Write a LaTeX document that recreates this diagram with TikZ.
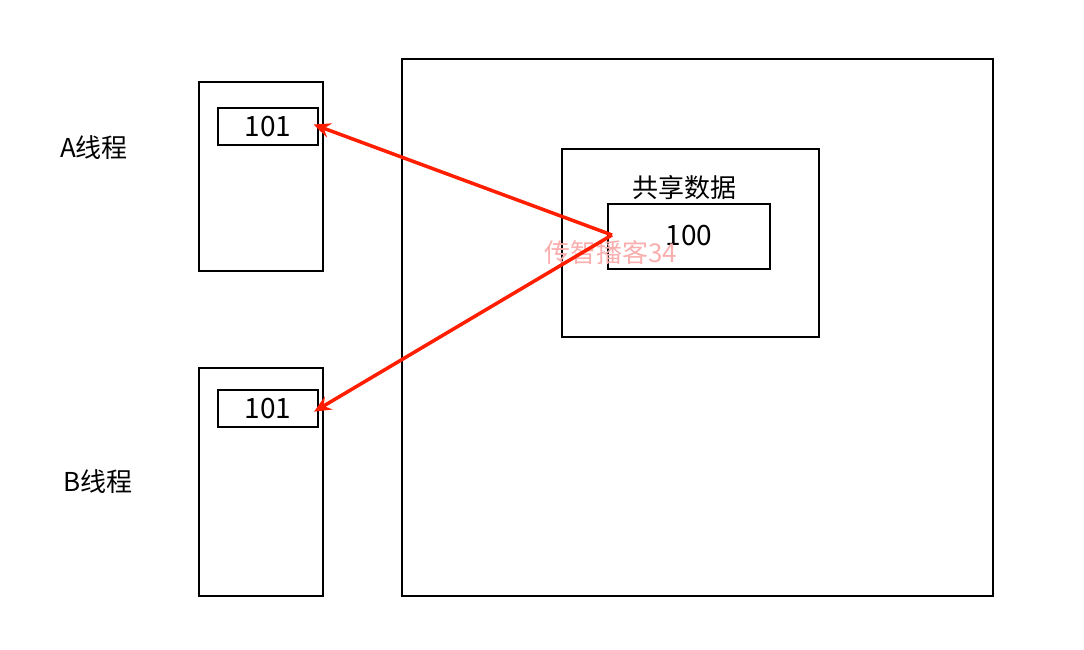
\documentclass[tikz,border=0pt]{standalone}
\usepackage{fontspec}
\setmainfont{Noto Sans CJK SC}
\usetikzlibrary{arrows.meta}
\begin{document}
\begin{tikzpicture}[x=1pt,y=-1pt,
  box/.style={draw=black,line width=2.2pt},
  lbl/.style={font=\fontsize{26}{30}\selectfont,inner sep=0pt},
  num/.style={font=\fontsize{28}{32}\selectfont,inner sep=0pt},
  redarrow/.style={draw={rgb,255:red,255;green,30;blue,0},line width=3.5pt,shorten >=-6pt,-{Stealth[length=17pt,width=15pt,inset=6pt]}}]
\useasboundingbox (0,0) rectangle (1084,650);
% big memory box
\draw[box] (402,59) rectangle (993,596);
% thread boxes
\draw[box] (199,82) rectangle (323,271);
\draw[box] (199,368) rectangle (323,596);
\node[box,minimum width=100pt,minimum height=37pt,inner sep=0pt,anchor=north west] (a) at (217,107) {};
\node[num] at (a.center) {101};
\node[box,minimum width=100pt,minimum height=37pt,inner sep=0pt,anchor=north west] (b) at (217,389) {};
\node[num] at (b.center) {101};
% shared data
\draw[box] (562,149) rectangle (819,337);
\node[lbl] (sl) at (684,188) {共享数据};
\node[box,minimum width=162pt,minimum height=65pt,inner sep=0pt,anchor=north west] (s) at (607,203) {};
\node[num] at (689,236) {100};
% thread labels
\node[lbl] (la) at (94,148) {A线程};
\node[lbl] (lb) at (98,482) {B线程};
% watermark
\node[lbl,text={rgb,255:red,250;green,175;blue,175},anchor=west] (wm) at (544,253) {传智播客34};
% arrows
\coordinate (src) at (612,235);
\draw[redarrow] (src) -- (a.east);
\draw[redarrow] (src) -- (b.east);
\end{tikzpicture}
\end{document}
